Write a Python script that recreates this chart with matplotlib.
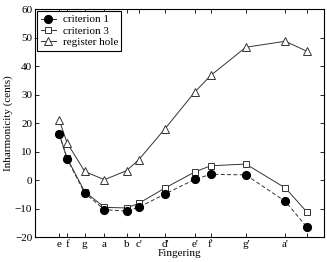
import matplotlib
matplotlib.use("Agg")
import matplotlib.pyplot as plt

# fingering notes and their frequencies (Hz), x axis is linear in frequency
notes = ["e", "f", "g", "a", "b", "c'", "d'", "e'", "f'", "g'", "a'", ""]
freqs = [329.63, 349.23, 392.0, 440.0, 493.88, 523.25, 587.33, 659.26, 698.46, 783.99, 880.0, 932.33]

# inharmonicity in cents
crit1 = [16.2, 7.4, -4.6, -10.4, -10.9, -9.6, -4.9, 0.2, 2.0, 1.8, -7.5, -16.5]
crit3 = [16.3, 7.6, -4.1, -9.6, -9.8, -8.2, -2.8, 2.8, 5.0, 5.6, -2.8, -11.2]
reghole = [21.2, 13.0, 3.0, 0.1, 3.3, 7.1, 18.0, 30.8, 36.7, 46.6, 48.7, 45.2]

plt.rcParams['font.family'] = ['Liberation Serif', 'DejaVu Serif']
plt.rcParams['font.size'] = 8
plt.rcParams['axes.unicode_minus'] = True

fig = plt.figure(figsize=(3.27, 2.62), dpi=100)
ax = fig.add_axes([0.107, 0.0954, 0.885, 0.87])

ax.plot(freqs, crit1, color='#333333', lw=0.7, ls=(0, (4, 2.5)), marker='o',
        ms=5.6, mfc='black', mec='black', label='criterion 1', zorder=4)
ax.plot(freqs, crit3, color='#333333', lw=0.7, marker='s',
        ms=4.6, mfc='white', mec='#333333', mew=0.7, label='criterion 3', zorder=3)
ax.plot(freqs, reghole, color='#333333', lw=0.7, marker='^',
        ms=6.2, mfc='white', mec='#333333', mew=0.7, label='register hole', zorder=2)
# dashed line of criterion 1 is drawn in the legend as solid
leg = ax.legend(loc='upper left', handlelength=1.4, borderaxespad=0.2,
                fancybox=False, edgecolor='black', framealpha=1,
                handletextpad=0.6, borderpad=0.3, labelspacing=0.15)
leg.get_frame().set_linewidth(0.8)
leg.legend_handles[0].set_linestyle('-')

ax.set_xlim(271, 975)
ax.set_ylim(-20, 60)
ax.set_xticks(freqs)
ax.set_xticklabels(notes)
ax.set_yticks([-20, -10, 0, 10, 20, 30, 40, 50, 60])
ax.tick_params(direction='in', top=True, right=True, length=3, width=0.6, pad=2)
for s in ax.spines.values():
    s.set_linewidth(0.8)

ax.set_xlabel('Fingering', labelpad=0)
ax.set_ylabel('Inharmonicity (cents)', labelpad=1)

fig.savefig('out.png', dpi=100)
